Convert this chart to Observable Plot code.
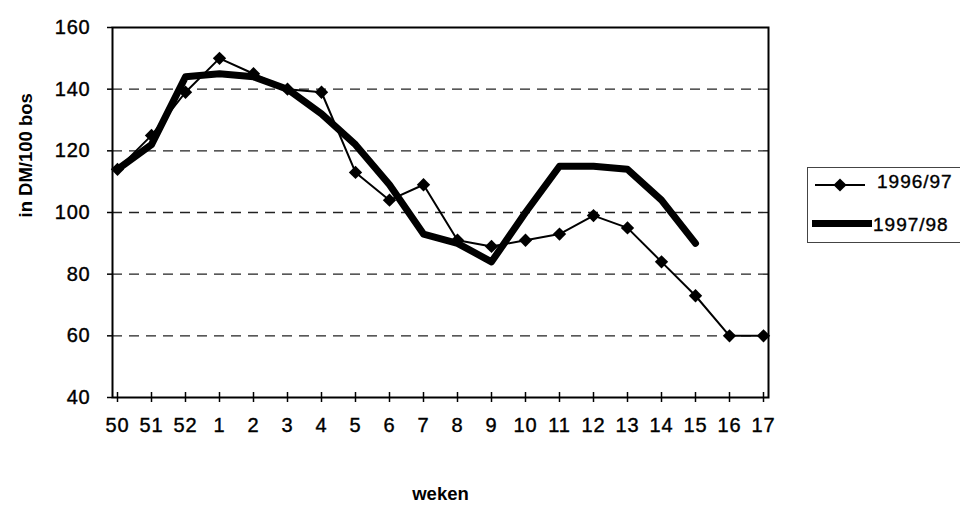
<!DOCTYPE html>
<html><head><meta charset="utf-8">
<script src="https://cdn.jsdelivr.net/npm/d3@7"></script>
<script src="https://cdn.jsdelivr.net/npm/@observablehq/plot@0.6"></script>
<style>
html,body{margin:0;padding:0;background:#fff;overflow:hidden}
#wrap{position:relative;width:960px;height:507px;overflow:hidden}
#legend{position:absolute;left:807px;top:167px}
</style></head><body><div id="wrap"></div>
<script>
// ---- data ----
const weeks = ["50","51","52","1","2","3","4","5","6","7","8","9","10","11","12","13","14","15","16","17"];
const s9697 = [114,125,139,150,145,140,139,113,104,109,91,89,91,93,99,95,84,73,60,60];
const s9798 = [114,122,144,145,144,140,132,122,109,93,90,84,100,115,115,114,104,90,null,null];
const seriesNames = ["1996/97","1997/98"];
const yTicks = [40,60,80,100,120,140,160];
const gridValues = [60,80,100,120,140];
const yLabel = "in DM/100 bos";
const xLabel = "weken";

const data = weeks.map((w,i)=>({week:w, a:s9697[i], b:s9798[i]}));
const FONT = "'Liberation Sans', Arial, Helvetica, sans-serif";

const plot = Plot.plot({
  width: 960, height: 507,
  marginLeft: 112, marginRight: 192, marginTop: 27, marginBottom: 110,
  style: {fontFamily: FONT, fontSize: "20px", color: "black", background: "white"},
  x: {type: "point", domain: weeks, padding: 0, label: null},
  y: {domain: [40,160], label: null},
  marks: [
    Plot.ruleY(gridValues, {stroke: "#222", strokeWidth: 1.4, strokeDasharray: "10,7"}),
    Plot.frame({stroke: "black", strokeWidth: 2}),
    Plot.axisY({ticks: yTicks, tickSize: 5, tickPadding: 17, fontSize: 20, label: null, strokeWidth: 1.5}),
    Plot.axisX({tickSize: 10, dy: -5, tickFormat: () => "", label: null, strokeWidth: 1.5}),
    Plot.axisX({tickSize: 0, tickPadding: 20, fontSize: 20, label: null}),
    Plot.line(data.filter(d => d.b != null), {x: "week", y: "b", stroke: "black", strokeWidth: 7}),
    Plot.line(data, {x: "week", y: "a", stroke: "black", strokeWidth: 2}),
    Plot.dot(data, {x: "week", y: "a", symbol: "diamond2", r: 6, fill: "black"}),
    Plot.text([yLabel], {text: d => d, frameAnchor: "left", rotate: -90, dx: -86, dy: 5, fontWeight: "bold", fontSize: 18.5, ariaLabel: "ylabel"}),
    Plot.text([xLabel], {text: d => d, frameAnchor: "bottom", dy: 102, fontWeight: "bold", fontSize: 18.5, ariaLabel: "xlabel"})
  ]
});

const sel = d3.select(plot);
sel.selectAll('g[aria-label="ylabel"] text').attr("letter-spacing", "4px");
sel.selectAll('g[aria-label="xlabel"] text').attr("letter-spacing", "3px");
sel.selectAll('g[aria-label="x-axis tick label"] text, g[aria-label="y-axis tick label"] text')
  .attr("letter-spacing", "0.8px").attr("stroke", "black").attr("stroke-width", 0.4);

const wrap = document.getElementById("wrap");
wrap.appendChild(plot);

// ---- legend ----
const lg = d3.select(wrap).append("svg").attr("id","legend")
  .attr("width", 160).attr("height", 77)
  .style("font-family", FONT);
lg.append("rect").attr("x",0.5).attr("y",0.5).attr("width",170).attr("height",75)
  .attr("fill","white").attr("stroke","#444").attr("stroke-width",1);
// row 1
lg.append("line").attr("x1",8).attr("x2",58).attr("y1",18).attr("y2",18).attr("stroke","black").attr("stroke-width",2);
lg.append("path").attr("d", d3.symbol(d3.symbolDiamond2, 110)()).attr("transform","translate(33,18)").attr("fill","black");
lg.append("text").attr("x",70).attr("y",14).attr("dy","0.35em").attr("font-size",19).attr("letter-spacing","1px")
  .attr("stroke","black").attr("stroke-width",0.4).text(seriesNames[0]);
// row 2
lg.append("line").attr("x1",5).attr("x2",65).attr("y1",56.5).attr("y2",56.5).attr("stroke","black").attr("stroke-width",7);
lg.append("text").attr("x",66).attr("y",57).attr("dy","0.35em").attr("font-size",19).attr("letter-spacing","1px")
  .attr("stroke","black").attr("stroke-width",0.4).text(seriesNames[1]);
</script>
</body></html>
